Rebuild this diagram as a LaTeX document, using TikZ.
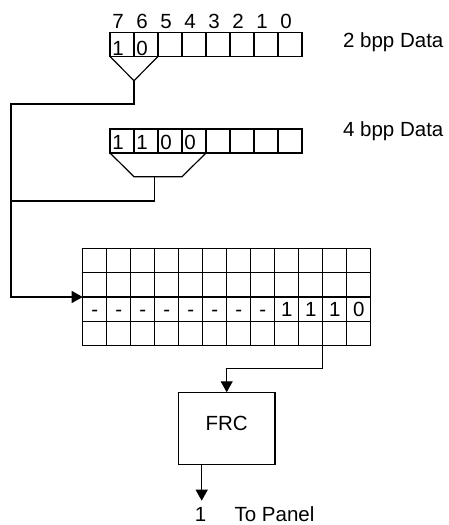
\documentclass[tikz,border=0pt]{standalone}
\usepackage{fontspec}
\setmainfont{Liberation Sans}
\usetikzlibrary{arrows.meta}
\begin{document}
\begin{tikzpicture}[x=1pt,y=-1pt,line width=1.2pt,
  cell/.style={draw,rectangle,minimum width=24pt,minimum height=24pt,inner sep=0pt,outer sep=0pt,anchor=north west},
  gcell/.style={cell,minimum height=24.35pt},
  txt/.style={inner sep=0pt,anchor=base,font=\fontsize{20.5}{24}\selectfont},
  ltxt/.style={txt,anchor=base west},
  arr/.style={-{Triangle[width=12pt,length=11pt]}},
  box/.style={draw,rectangle,minimum width=96.7pt,minimum height=71.3pt,inner sep=0pt,font=\fontsize{20.5}{24}\selectfont,text depth=10pt}]
\useasboundingbox (0,0) rectangle (449,525);

% registers
\foreach \i in {0,...,7} {
  \pgfmathtruncatemacro\b{7-\i}
  \node[cell] (a\b) at ({110+24*\i},32.5) {};
  \node[txt] (n\b) at ({118+24*\i},28.3) {\b};
  \node[cell] (b\b) at ({110+24*\i},129) {};
}
\node[txt] (a7t) at (118,55) {1};
\node[txt] (a6t) at (142,55) {0};
\node[txt] (b7t) at (118,149) {1};
\node[txt] (b6t) at (142,149) {1};
\node[txt] (b5t) at (166,149) {0};
\node[txt] (b4t) at (190,149) {0};

\node[ltxt] (lab2) at (342.5,47.3) {2 bpp Data};
\node[ltxt] (lab4) at (342.5,136.7) {4 bpp Data};

% funnels
\coordinate (f1) at (134,80.7);
\draw (a7.south west) -- (f1) -- (a6.south east);
\coordinate (f2l) at (134,176.7);
\coordinate (f2r) at (182,176.7);
\coordinate (f2) at (154.3,176.7);
\draw (b7.south west) -- (f2l) -- (f2r) -- (b4.south east);

% grid
\foreach \r in {0,...,3} {
  \foreach \c in {0,...,11} {
    \node[gcell] (g-\r-\c) at ({82.7+24*\c},{248.3+24.35*\r}) {};
  }
}
\foreach \c in {0,...,7} {
  \node[txt] (gt\c) at ({94.7+24*\c},316.7) {-};
}
\node[txt] (gt8) at (286.7,316.7) {1};
\node[txt] (gt9) at (310.7,316.7) {1};
\node[txt] (gt10) at (334.7,316.7) {1};
\node[txt] (gt11) at (358.7,316.7) {0};

% connectors
\coordinate (L1) at (11,104);
\coordinate (L2) at (11,201);
\draw[arr] (f1) |- (L1) |- (g-2-0.north west);
\draw (f2) |- (L2);

% FRC
\node[box] (frc) at (226.7,428.5) {FRC};
\draw[arr] (g-3-10.south west) -- ++(0,22.6) -| (frc.north);

\coordinate (out) at (201.7,500.7);
\draw[arr] (frc.south -| out) -- (out);
\node[txt] (one) at (200.5,521.7) {1};
\node[ltxt] (panel) at (234,521.7) {To Panel};
\end{tikzpicture}
\end{document}
